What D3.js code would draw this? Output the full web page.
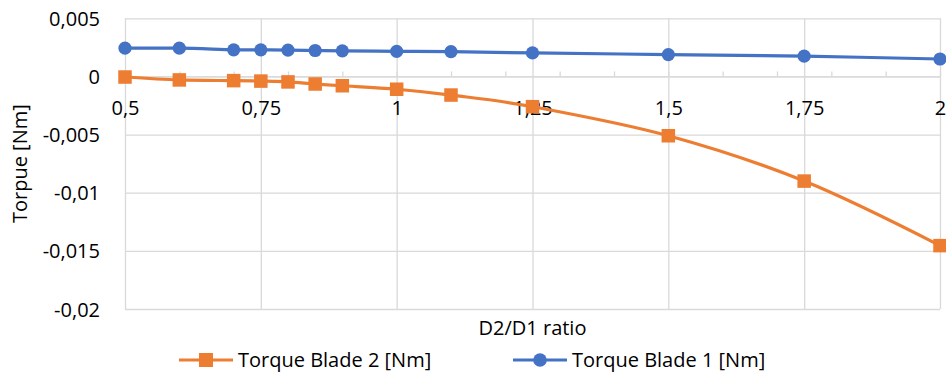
<!DOCTYPE html>
<html>
<head>
<meta charset="utf-8">
<script src="https://cdn.jsdelivr.net/npm/d3@7"></script>
<style>
  html, body { margin: 0; padding: 0; background: #ffffff; }
  svg { display: block; font-family: "Open Sans", "Noto Sans", sans-serif; }
</style>
</head>
<body>
<svg id="chart" width="946" height="373"></svg>
<script>
// ---- data ----
const ratios = [0.5, 0.6, 0.7, 0.75, 0.8, 0.85, 0.9, 1.0, 1.1, 1.25, 1.5, 1.75, 2.0];
const torqueBlade2 = [-0.00005, -0.0003, -0.00036, -0.0004, -0.00047, -0.00065, -0.0008, -0.0011, -0.0016, -0.0026, -0.0051, -0.009, -0.01455];
const torqueBlade1 = [0.00243, 0.00243, 0.00229, 0.00229, 0.00227, 0.00223, 0.0022, 0.00216, 0.00213, 0.00202, 0.00188, 0.00174, 0.0015];
const seriesNames = ["Torque Blade 2 [Nm]", "Torque Blade 1 [Nm]"];
const xTicks = [0.5, 0.75, 1, 1.25, 1.5, 1.75, 2];
const xTickLabels = ["0,5", "0,75", "1", "1,25", "1,5", "1,75", "2"];
const xMinorTicks = [0.5, 0.6, 0.7, 0.8, 0.9, 1.0, 1.1, 1.2, 1.3, 1.4, 1.5, 1.6, 1.7, 1.8, 1.9, 2.0];
const yTicks = [0.005, 0, -0.005, -0.01, -0.015, -0.02];
const yTickLabels = ["0,005", "0", "-0,005", "-0,01", "-0,015", "-0,02"];
const xTitle = "D2/D1 ratio";
const yTitle = "Torpue [Nm]";

(function () {
// ---- layout ----
const svg = d3.select("#chart");
const pLeft = 125, pRight = 940, pTop = 18.3, pBottom = 309;
const x = d3.scaleLinear().domain([0.5, 2]).range([pLeft, pRight]);
const y = d3.scaleLinear().domain([-0.02, 0.005]).range([pBottom, pTop]);
const colors = ["#ED7D31", "#4472C4"];
const gridColor = "#D9D9D9";
const fontSize = 20;

// horizontal gridlines
const yGrid = svg.append("g").attr("transform", `translate(${pLeft},0)`)
  .call(d3.axisLeft(y).tickValues(yTicks).tickSize(-(pRight - pLeft)).tickFormat(""));
yGrid.select(".domain").remove();
yGrid.selectAll("line").attr("stroke", gridColor).attr("stroke-width", 1.3);

// vertical gridlines
const xGrid = svg.append("g").attr("transform", `translate(0,${pBottom})`)
  .call(d3.axisBottom(x).tickValues(xTicks).tickSize(-(pBottom - pTop)).tickFormat(""));
xGrid.select(".domain").remove();
xGrid.selectAll("line").attr("stroke", gridColor).attr("stroke-width", 1.3);

// category axis at zero with minor ticks (inside)
const zeroAxis = svg.append("g").attr("transform", `translate(0,${y(0)})`)
  .call(d3.axisTop(x).tickValues(xMinorTicks).tickSize(5).tickSizeOuter(0).tickFormat(""));
zeroAxis.select(".domain").attr("stroke", gridColor).attr("stroke-width", 1.3);
zeroAxis.selectAll("line").attr("stroke", gridColor).attr("stroke-width", 1.3);

// y tick labels
const yAxis = svg.append("g").attr("transform", `translate(${pLeft - 25},0)`)
  .call(d3.axisLeft(y).tickValues(yTicks).tickSize(0).tickPadding(0)
    .tickFormat((d, i) => yTickLabels[i]));
yAxis.select(".domain").remove();
yAxis.selectAll("text").attr("font-size", fontSize).attr("font-family", "Open Sans")
  .attr("fill", "#000").attr("dy", "0.35em");

// x tick labels (next to zero axis)
const xAxis = svg.append("g").attr("transform", `translate(0,${y(0)})`)
  .call(d3.axisBottom(x).tickValues(xTicks).tickSize(0).tickPadding(0)
    .tickFormat((d, i) => xTickLabels[i]));
xAxis.select(".domain").remove();
xAxis.selectAll("text").attr("font-size", fontSize).attr("font-family", "Open Sans")
  .attr("fill", "#000").attr("dy", null).attr("y", 39);

// axis titles
svg.append("text").attr("x", (pLeft + pRight) / 2).attr("y", 335)
  .attr("text-anchor", "middle").attr("font-size", fontSize).attr("fill", "#000")
  .text(xTitle);
svg.append("text").attr("transform", `translate(27,${(pTop + pBottom) / 2}) rotate(-90)`)
  .attr("text-anchor", "middle").attr("font-size", fontSize).attr("fill", "#000")
  .text(yTitle);

// series
const allSeries = [torqueBlade2, torqueBlade1];
const line = d3.line().x((d, i) => x(ratios[i])).y(d => y(d)).curve(d3.curveCardinal.tension(0));
allSeries.forEach((vals, si) => {
  svg.append("path").datum(vals).attr("d", line)
    .attr("fill", "none").attr("stroke", colors[si]).attr("stroke-width", 3.2)
    .attr("stroke-linejoin", "round").attr("stroke-linecap", "round");
  const g = svg.append("g");
  if (si === 0) {
    const s = 13.5;
    g.selectAll("rect").data(vals).join("rect")
      .attr("x", (d, i) => x(ratios[i]) - s / 2).attr("y", d => y(d) - s / 2)
      .attr("width", s).attr("height", s).attr("fill", colors[si]);
  } else {
    g.selectAll("circle").data(vals).join("circle")
      .attr("cx", (d, i) => x(ratios[i])).attr("cy", d => y(d)).attr("r", 6.6)
      .attr("fill", colors[si]);
  }
});

// legend
const legendY = 360;
const legendItems = [
  { name: seriesNames[0], color: colors[0], x0: 179, type: "square" },
  { name: seriesNames[1], color: colors[1], x0: 513, type: "circle" }
];
legendItems.forEach(it => {
  const g = svg.append("g");
  g.append("line").attr("x1", it.x0).attr("x2", it.x0 + 54).attr("y1", legendY).attr("y2", legendY)
    .attr("stroke", it.color).attr("stroke-width", 3.2);
  if (it.type === "square") {
    g.append("rect").attr("x", it.x0 + 27 - 7).attr("y", legendY - 7).attr("width", 14).attr("height", 14)
      .attr("fill", it.color);
  } else {
    g.append("circle").attr("cx", it.x0 + 27).attr("cy", legendY).attr("r", 6.8).attr("fill", it.color);
  }
  g.append("text").attr("x", it.x0 + 59).attr("y", legendY + 7).attr("font-size", fontSize)
    .attr("fill", "#000").text(it.name);
});
})();
</script>
</body>
</html>
